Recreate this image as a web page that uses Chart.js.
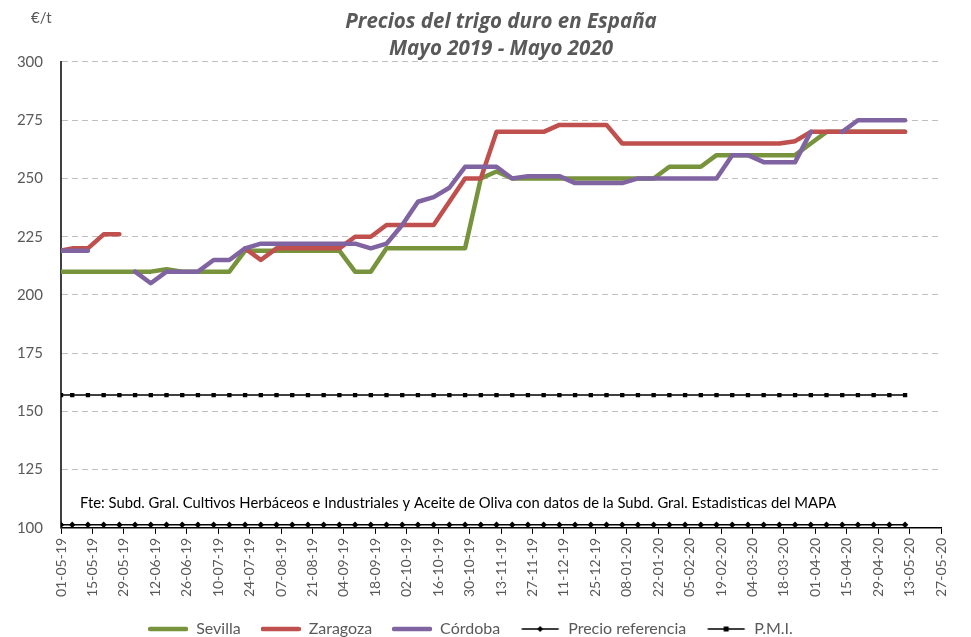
<!DOCTYPE html>
<html>
<head>
<meta charset="utf-8">
<script src="https://cdn.jsdelivr.net/npm/chart.js@4.4.1/dist/chart.umd.min.js"></script>
<style>
  html, body { margin: 0; padding: 0; background: #fff; }
  #wrap { width: 971px; height: 637px; }
</style>
</head>
<body>
<div id="wrap"><canvas id="myChart" width="971" height="637"></canvas></div>
<script>
// fechas de cotización (dd-mm-yy)
const dates = [
  '01-05-19', '06-05-19', '13-05-19', '20-05-19', '27-05-19', '03-06-19', '10-06-19', '17-06-19', '24-06-19',
  '01-07-19', '08-07-19', '15-07-19', '22-07-19', '29-07-19', '05-08-19', '12-08-19', '19-08-19', '26-08-19',
  '02-09-19', '09-09-19', '16-09-19', '23-09-19', '30-09-19', '07-10-19', '14-10-19', '21-10-19', '28-10-19',
  '04-11-19', '11-11-19', '18-11-19', '25-11-19', '02-12-19', '09-12-19', '16-12-19', '23-12-19', '30-12-19',
  '06-01-20', '13-01-20', '20-01-20', '27-01-20', '03-02-20', '10-02-20', '17-02-20', '24-02-20', '02-03-20',
  '09-03-20', '16-03-20', '23-03-20', '30-03-20', '06-04-20', '13-04-20', '20-04-20', '27-04-20', '04-05-20',
  '11-05-20'
];

const sevilla = [
  210, 210, 210, 210, 210, 210, 210, 211, 210, 210, 210, 210, 219, 219, 219, 219, 219, 219, 219,
  210, 210, 220, 220, 220, 220, 220, 220, 250, 253, 250, 250, 250, 250, 250, 250, 250, 250, 250,
  250, 255, 255, 255, 260, 260, 260, 260, 260, 260, 265, 270, 270, 270, 270, 270, 270
];
const zaragoza = [
  219, 220, 220, 226, 226, null, null, null, null, null, null, null, 220, 215, 220, 220, 220, 220, 220,
  225, 225, 230, 230, 230, 230, 240, 250, 250, 270, 270, 270, 270, 273, 273, 273, 273, 265, 265,
  265, 265, 265, 265, 265, 265, 265, 265, 265, 266, 270, 270, 270, 270, 270, 270, 270
];
const cordoba = [
  219, 219, 219, null, null, 210, 205, 210, 210, 210, 215, 215, 220, 222, 222, 222, 222, 222, 222,
  222, 220, 222, 230, 240, 242, 246, 255, 255, 255, 250, 251, 251, 251, 248, 248, 248, 248, 250,
  250, 250, 250, 250, 250, 260, 260, 257, 257, 257, 270, null, 270, 275, 275, 275, 275
];
const precioReferencia = [
  101.31, 101.31, 101.31, 101.31, 101.31, 101.31, 101.31, 101.31, 101.31, 101.31, 101.31,
  101.31, 101.31, 101.31, 101.31, 101.31, 101.31, 101.31, 101.31, 101.31, 101.31, 101.31,
  101.31, 101.31, 101.31, 101.31, 101.31, 101.31, 101.31, 101.31, 101.31, 101.31, 101.31,
  101.31, 101.31, 101.31, 101.31, 101.31, 101.31, 101.31, 101.31, 101.31, 101.31, 101.31,
  101.31, 101.31, 101.31, 101.31, 101.31, 101.31, 101.31, 101.31, 101.31, 101.31, 101.31
];
const pmi = [
  157, 157, 157, 157, 157, 157, 157, 157, 157, 157, 157, 157, 157, 157, 157, 157, 157, 157, 157,
  157, 157, 157, 157, 157, 157, 157, 157, 157, 157, 157, 157, 157, 157, 157, 157, 157, 157, 157,
  157, 157, 157, 157, 157, 157, 157, 157, 157, 157, 157, 157, 157, 157, 157, 157, 157
];

const fuente = 'Fte: Subd. Gral. Cultivos Herbáceos e Industriales y Aceite de Oliva con datos de la Subd. Gral. Estadisticas del MAPA';

// eje x: días desde el 01-05-19, marcas cada 14 días hasta 27-05-20
const DAY = 86400000;
const base = Date.UTC(2019, 4, 1);
const toDay = s => {
  const [d, m, y] = s.split('-').map(Number);
  return (Date.UTC(2000 + y, m - 1, d) - base) / DAY;
};
const fmt = v => {
  const d = new Date(base + v * DAY);
  const p = n => String(n).padStart(2, '0');
  return p(d.getUTCDate()) + '-' + p(d.getUTCMonth() + 1) + '-' + p(d.getUTCFullYear() % 100);
};
const xs = dates.map(toDay);
const pts = arr => arr.map((v, i) => ({ x: xs[i], y: v }));

// muestras de leyenda (línea + marcador)
function sample(color, width, marker) {
  const c = document.createElement('canvas');
  c.width = 40; c.height = 10;
  const g = c.getContext('2d');
  g.strokeStyle = color; g.lineWidth = width; g.lineCap = 'round';
  g.beginPath(); g.moveTo(2, 5); g.lineTo(38, 5); g.stroke();
  g.fillStyle = color;
  if (marker === 'rect') g.fillRect(17.5, 2.5, 5, 5);
  if (marker === 'rectRot') { g.beginPath(); g.moveTo(20, 2); g.lineTo(23, 5); g.lineTo(20, 8); g.lineTo(17, 5); g.closePath(); g.fill(); }
  return c;
}

const FONT = 'Lato, "Open Sans", sans-serif';
const GREY = '#595959';

const notes = {
  id: 'notes',
  afterDraw(chart) {
    const { ctx, scales: { x, y } } = chart;
    ctx.save();
    ctx.fillStyle = '#000';
    ctx.font = '14.8px ' + FONT;
    ctx.textBaseline = 'middle';
    ctx.fillText(fuente, x.left + 19, y.getPixelForValue(110.6));
    ctx.fillStyle = GREY;
    ctx.font = '15px ' + FONT;
    ctx.fillText('€/t', 31, 18);
    ctx.restore();
  }
};

const lineDs = (label, data, color, order) => ({
  label, data: pts(data), borderColor: color, backgroundColor: color,
  borderWidth: 4.5, pointRadius: 0, tension: 0, order,
  borderCapStyle: 'round', borderJoinStyle: 'round', spanGaps: false,
  pointStyle: sample(color, 4.5)
});

const ctx = document.getElementById('myChart');
new Chart(ctx, {
  type: 'line',
  data: {
    datasets: [
      lineDs('Sevilla', sevilla, '#77933C', 3),
      lineDs('Zaragoza', zaragoza, '#C0504D', 2),
      lineDs('Córdoba', cordoba, '#8064A2', 1),
      {
        label: 'Precio referencia', data: pts(precioReferencia), borderColor: '#000', backgroundColor: '#000',
        borderWidth: 1.5, pointRadius: 2.2, pointStyle: 'rectRot', order: 0,
        legendStyle: sample('#000', 1.5, 'rectRot')
      },
      {
        label: 'P.M.I.', data: pts(pmi), borderColor: '#000', backgroundColor: '#000',
        borderWidth: 1.5, pointRadius: 2, pointStyle: 'rect', order: 0,
        legendStyle: sample('#000', 1.5, 'rect')
      }
    ]
  },
  options: {
    responsive: false,
    animation: false,
    layout: { padding: { left: 0, right: 30, top: 0, bottom: -10 } },
    plugins: {
      title: {
        display: true,
        fullSize: false,
        text: ['Precios del trigo duro en España', 'Mayo 2019 - Mayo 2020'],
        color: GREY,
        font: { family: '"Open Sans", Lato, sans-serif', size: 20.5, weight: 'bold', style: 'italic', lineHeight: 1.28 },
        padding: { top: 9.5, bottom: 0 }
      },
      legend: {
        position: 'bottom',
        labels: {
          usePointStyle: true,
          pointStyleWidth: 40,
          color: GREY,
          font: { family: FONT, size: 16 },
          padding: 20,
          sort: (a, b) => a.datasetIndex - b.datasetIndex,
          generateLabels(chart) {
            const items = Chart.defaults.plugins.legend.labels.generateLabels(chart);
            items.forEach(it => {
              const ds = chart.data.datasets[it.datasetIndex];
              it.pointStyle = ds.legendStyle || ds.pointStyle;
            });
            return items;
          }
        }
      },
      tooltip: { enabled: false }
    },
    scales: {
      x: {
        type: 'linear',
        min: 0,
        max: 392,
        ticks: {
          stepSize: 14,
          autoSkip: false,
          maxRotation: 90,
          minRotation: 90,
          color: GREY,
          font: { family: FONT, size: 14 },
          padding: 4,
          callback: v => fmt(v)
        },
        grid: { drawOnChartArea: false, drawTicks: true, tickLength: 6, tickColor: '#000', tickWidth: 1 },
        border: { color: '#000', width: 1.5 }
      },
      y: {
        min: 100,
        max: 300,
        ticks: { stepSize: 25, color: GREY, font: { family: FONT, size: 15 }, padding: 18 },
        grid: { color: '#BFBFBF', lineWidth: 1, drawTicks: false },
        border: { color: '#404040', width: 2, dash: [6, 4] },
        afterFit: s => { s.width = 61; }
      }
    }
  },
  plugins: [notes]
});
</script>
</body>
</html>
